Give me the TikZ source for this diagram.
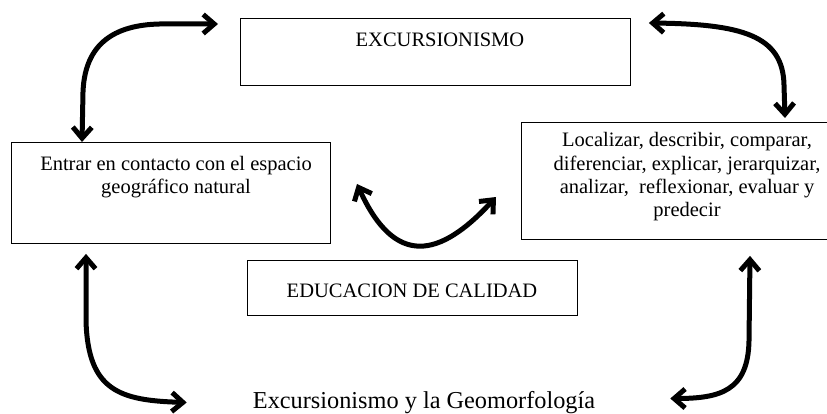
\documentclass[tikz,border=0pt]{standalone}
\usepackage{fontspec}
\setmainfont{Liberation Serif}
\usetikzlibrary{arrows.meta,calc}
\begin{document}
\begin{tikzpicture}[x=1pt,y=-1pt,
  box/.style={draw, line width=0.9pt, inner sep=0pt, anchor=north west},
  boxtext/.style={inner sep=0pt, font=\fontsize{20.5}{23.5}\selectfont, align=center, anchor=base},
  bigarrow/.style={line width=5pt, line cap=round, line join=round,
    {Straight Barb[length=11pt,width=19pt]}-{Straight Barb[length=11pt,width=19pt]}}
]
\useasboundingbox (0,0) rectangle (827,414);
% boxes
\node[box, minimum width=390pt, minimum height=67pt] (exc) at (240,18) {};
\node[box, minimum width=319pt, minimum height=101pt] (ent) at (11,142) {};
\node[box, minimum width=312pt, minimum height=117pt] (loc) at (521,122) {};
\node[box, minimum width=330pt, minimum height=55pt] (edu) at (247,260) {};
% texts (base anchor = baseline of the last line)
\node[boxtext] (excT) at (440,47) {EXCURSIONISMO};
\node[boxtext] (entT) at (176,194) {Entrar en contacto con el espacio\\geográfico natural};
\node[boxtext] (locT) at (687,217) {Localizar, describir, comparar,\\diferenciar, explicar, jerarquizar,\\analizar,\ \ reflexionar, evaluar y\\predecir};
\node[boxtext] (eduT) at (412,297) {EDUCACION DE CALIDAD};
\node[inner sep=0pt, anchor=base, font=\fontsize{24.3}{28}\selectfont] (title) at (424,408.5) {Excursionismo y la Geomorfología};
% arrow end points
\coordinate (a1s) at ([xshift=71pt]ent.north west);
\coordinate (a1e) at ([xshift=-22pt,yshift=-6pt]exc.north west);
\coordinate (a2s) at ([xshift=18pt,yshift=-5pt]exc.north east);
\coordinate (a2e) at ([xshift=264pt,yshift=4pt]loc.north west);
\coordinate (a3s) at ([xshift=75pt,yshift=-10pt]ent.south west);
\coordinate (a3e) at ([xshift=-66pt,yshift=6pt]title.base west);
\coordinate (a4s) at ([xshift=229pt,yshift=-16pt]loc.south west);
\coordinate (a4e) at ([xshift=75pt,yshift=10pt]title.base east);
\coordinate (m1) at (357,184);
\coordinate (m2) at (496,197);
% arrows
\draw[bigarrow] (a1s) -- ($(a1s)+(1,-50)$) .. controls ($(a1s)+(3,-105)$) and ($(a1e)+(-95,-1)$) .. ($(a1e)+(-50,0)$) -- (a1e);
\draw[bigarrow] (a2s) .. controls ($(a2s)+(92,1)$) and ($(a2e)+(-2,-83)$) .. ($(a2e)+(-1,-33)$) -- (a2e);
\draw[bigarrow] (a3s) -- ($(a3s)+(0,67)$) .. controls ($(a3s)+(2,137)$) and ($(a3e)+(-67,-2)$) .. (a3e);
\draw[bigarrow] (a4s) -- ($(a4s)+(-1,85)$) .. controls ($(a4s)+(-2,135)$) and ($(a4e)+(50,0)$) .. (a4e);
\draw[bigarrow] (m1) .. controls (395,268) and (440,258) .. (m2);
\end{tikzpicture}
\end{document}
